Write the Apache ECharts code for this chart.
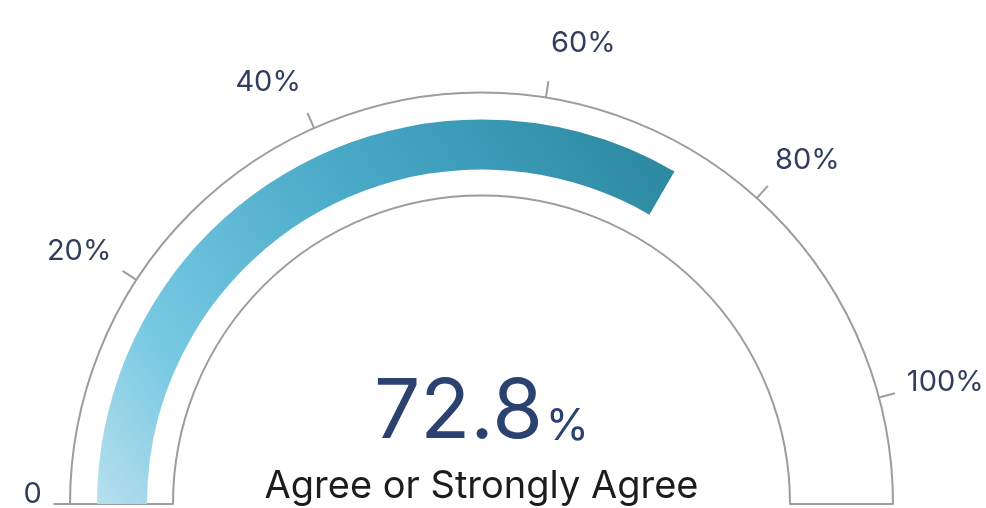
<!DOCTYPE html>
<html>
<head>
<meta charset="utf-8">
<script src="https://cdn.jsdelivr.net/npm/echarts@6/dist/echarts.min.js"></script>
<style>
  html, body { margin: 0; padding: 0; background: #fff; }
  #chart { width: 986px; height: 508px; }
</style>
</head>
<body>
<div id="chart"></div>
<script>
// Share of respondents who agree or strongly agree
const seriesValues = [72.8];
const seriesNames = ['Agree or Strongly Agree'];
const tickValues = [0, 20, 40, 60, 80, 100];
const tickLabels = ['0', '20%', '40%', '60%', '80%', '100%'];

// Layout of the dial
const CX = 481.5, CY = 504;
const FONT = 'Inter, "Noto Sans", sans-serif';
const LABEL_COLOR = '#313d5e';
const OUTLINE = '#9d9d9d';

// Per-tick nudges for the scale labels [top, right, bottom, left]
const labelPadding = [
  [0, 0, 20, 152],
  [160, 0, 0, 77],
  [244, 0, 0, 2],
  [255, 0, 0, 13],
  [219, 50, 0, 0],
  [72, 87, 0, 0]
];

const rich = {};
tickValues.forEach((v, i) => {
  rich['t' + i] = {
    fontFamily: FONT,
    fontSize: 29,
    lineHeight: 28,
    color: LABEL_COLOR,
    padding: labelPadding[i]
  };
});

const chart = echarts.init(document.getElementById('chart'), null, { renderer: 'canvas' });

chart.setOption({
  animation: false,
  backgroundColor: '#ffffff',
  series: [
    {
      // outlined band behind the dial
      type: 'pie',
      silent: true,
      center: [CX, CY],
      radius: [308.5, 411.5],
      startAngle: 180,
      clockwise: true,
      label: { show: false },
      labelLine: { show: false },
      emphasis: { disabled: true },
      data: [
        { value: 1, itemStyle: { color: '#ffffff', borderColor: OUTLINE, borderWidth: 2 } },
        { value: 1, itemStyle: { color: 'rgba(0,0,0,0)', borderWidth: 0 } }
      ]
    },
    {
      type: 'gauge',
      center: [CX, CY],
      radius: 384.5,
      startAngle: 180,
      endAngle: 15,
      min: tickValues[0],
      max: tickValues[tickValues.length - 1],
      splitNumber: tickValues.length - 1,
      axisLine: { show: false, lineStyle: { width: 0 } },
      progress: {
        show: true,
        width: 50,
        roundCap: false,
        itemStyle: {
          color: new echarts.graphic.LinearGradient(0, 1, 1, 0, [
            { offset: 0, color: '#b6e0ed' },
            { offset: 0.1, color: '#98d4e7' },
            { offset: 0.2, color: '#78c9e3' },
            { offset: 0.55, color: '#4aaac8' },
            { offset: 0.76, color: '#3a99b6' },
            { offset: 1, color: '#2a859b' }
          ])
        }
      },
      pointer: { show: false },
      anchor: { show: false },
      axisTick: { show: false },
      splitLine: {
        show: true,
        distance: -43.5,
        length: 16.5,
        lineStyle: { color: OUTLINE, width: 2 }
      },
      axisLabel: {
        show: true,
        distance: -198.5,
        fontFamily: FONT,
        fontSize: 29,
        color: LABEL_COLOR,
        formatter: function (val) {
          const i = tickValues.indexOf(Math.round(val));
          return '{t' + i + '|' + tickLabels[i] + '}';
        },
        rich: rich
      },
      title: {
        show: true,
        offsetCenter: [0, -17],
        fontFamily: FONT,
        fontSize: 38,
        color: '#1c1c1c'
      },
      detail: {
        show: true,
        offsetCenter: [0, -91],
        width: 300,
        formatter: function (v) {
          return '{v|' + v + '}{p|%}';
        },
        rich: {
          v: { fontFamily: FONT, fontSize: 82, lineHeight: 82, color: '#2b4270', fontWeight: 400 },
          p: { fontFamily: FONT, fontSize: 44, lineHeight: 82, color: '#2b4270', fontWeight: 400, padding: [27, 0, 0, 3] }
        }
      },
      data: [{ value: seriesValues[0], name: seriesNames[0] }]
    }
  ]
});
</script>
</body>
</html>
